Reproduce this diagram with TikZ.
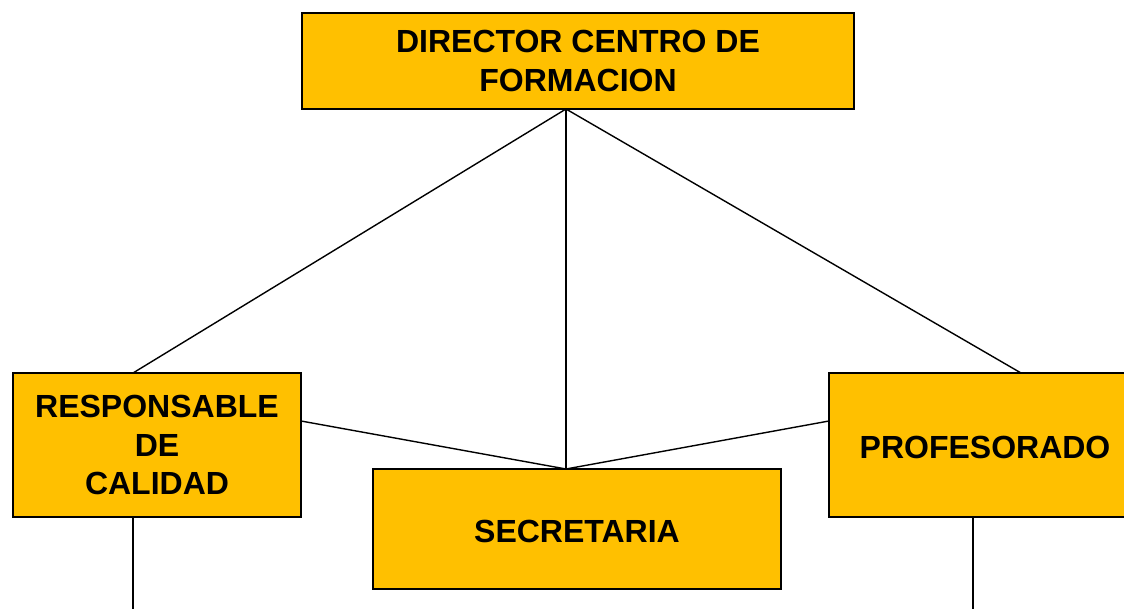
\documentclass[tikz,border=0pt]{standalone}
\usepackage{fontspec}
\setmainfont{Liberation Sans}
\definecolor{boxcol}{HTML}{FFC000}
\begin{document}
\begin{tikzpicture}[x=1pt,y=-1pt,
  box/.style={draw=black, line width=1.5pt, fill=boxcol, inner sep=0pt, align=center,
    font=\bfseries\fontsize{32}{38.5}\selectfont,
    execute at begin node={\rule{0pt}{27pt}}},
  conn/.style={line width=1.4pt, black}]
\useasboundingbox (0,0) rectangle (1124,609);
% connectors first (behind boxes)
\coordinate (dirb) at (566,109);
\coordinate (respT) at (133,373);
\coordinate (respR) at (301,421);
\coordinate (respB) at (133,517);
\coordinate (respE) at (133,609);
\coordinate (secT) at (566,469);
\coordinate (profT) at (1021,373);
\coordinate (profL) at (829,421);
\coordinate (profB) at (973,517);
\coordinate (profE) at (973,609);
\draw[conn] (dirb) -- (respT);
\draw[conn] (dirb) -- (secT);
\draw[conn] (dirb) -- (profT);
\draw[conn] (respR) -- (secT) -- (profL);
\draw[conn] (respB) -- (respE);
\draw[conn] (profB) -- (profE);
% boxes
\node[box, minimum width=552, minimum height=96] (dir) at (578,61) {DIRECTOR CENTRO DE\\FORMACION};
\node[box, minimum width=288, minimum height=144] (resp) at (157,445) {RESPONSABLE\\DE\\CALIDAD};
\node[box, minimum width=408, minimum height=120] (sec) at (577,529) {SECRETARIA};
\node[box, minimum width=312, minimum height=144] (prof) at (985,445) {PROFESORADO};
\end{tikzpicture}
\end{document}
